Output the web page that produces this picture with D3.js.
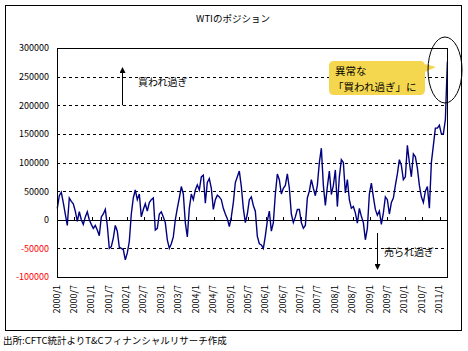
<!DOCTYPE html>
<html>
<head>
<meta charset="utf-8">
<script src="https://cdn.jsdelivr.net/npm/d3@7"></script>
<style>
    body { margin: 0; background: #fff; }
    svg text { font-family: "Noto Sans CJK JP", "Noto Sans", sans-serif; }
</style>
</head>
<body>
<svg id="chart" width="468" height="351"></svg>
<script>
// weekly CFTC net position, read every 3rd week from the picture
const startDate = new Date(2000, 0, 4);
const stepDays = 21;
const positions = [
    20000, 42000, 48000, 30000, 10000, -10000, 38000, 32000, 28000, 15000,
    -3000, 14000, 0, -8000, 5000, 14000, 0, -8000, -15000, -10000,
    -18000, -28000, 5000, 10000, 18000, -10000, -50000, -47000, -32000, -10000,
    -20000, -48000, -50000, -52000, -70000, -58000, -38000, 10000, 38000, 52000,
    35000, 45000, 5000, 18000, 28000, 15000, 30000, 35000, 38000, -18000,
    -15000, 10000, 14000, 5000, -5000, -35000, -50000, -42000, -30000, 0,
    20000, 38000, 58000, 45000, -5000, -30000, 20000, 45000, 35000, 52000,
    61000, 52000, 75000, 78000, 29000, 65000, 72000, 55000, 18000, 35000,
    43000, 40000, 35000, 20000, 10000, 2000, -12000, 5000, 30000, 65000,
    75000, 85000, 58000, 20000, -5000, 10000, 35000, 40000, 25000, 15000,
    -29000, -42000, -44000, -50000, -28000, -2000, 15000, -20000, -5000, 45000,
    80000, 70000, 45000, 55000, 60000, 80000, 55000, 10000, -5000, 5000,
    18000, 18000, -5000, -15000, -10000, 38000, 50000, 70000, 55000, 42000,
    60000, 100000, 125000, 60000, 25000, 58000, 85000, 44000, 60000, 87000,
    23000, 75000, 105000, 100000, 47000, 70000, 35000, 20000, 23000, 12000,
    -6000, 20000, 6000, -5000, -35000, -15000, 45000, 64000, 40000, 18000,
    8000, 15000, -8000, 12000, 40000, 35000, 10000, 30000, 38000, 60000,
    80000, 105000, 95000, 70000, 75000, 130000, 100000, 75000, 115000, 110000,
    90000, 60000, 40000, 30000, 50000, 58000, 20000, 100000, 130000, 160000,
    160000, 165000, 150000, 150000, 175000, 276000
];
const yTicks = [-100000, -50000, 0, 50000, 100000, 150000, 200000, 250000, 300000];
const xTickLabels = [
    "2000/1", "2000/7", "2001/1", "2001/7", "2002/1", "2002/7", "2003/1", "2003/7",
    "2004/1", "2004/7", "2005/1", "2005/7", "2006/1", "2006/7", "2007/1", "2007/7",
    "2008/1", "2008/7", "2009/1", "2009/7", "2010/1", "2010/7", "2011/1"
];

const svg = d3.select("#chart");
const plot = { left: 57, right: 447, top: 48, bottom: 277 };

const data = positions.map((v, i) => ({
    date: d3.timeDay.offset(startDate, i * stepDays),
    value: v
}));

const x = d3.scaleTime()
    .domain([new Date(2000, 0, 1), new Date(2011, 2, 18)])
    .range([plot.left, plot.right]);

const y = d3.scaleLinear()
    .domain([-100000, 300000])
    .range([plot.bottom, plot.top]);

// outer frame
svg.append("rect")
    .attr("x", 5.5).attr("y", 5.5)
    .attr("width", 456).attr("height", 325)
    .attr("fill", "none").attr("stroke", "#000");

svg.append("text")
    .attr("x", 233).attr("y", 22)
    .attr("text-anchor", "middle")
    .attr("font-size", 9.5)
    .text("WTIのポジション");

// dashed grid lines
svg.append("g")
    .selectAll("line")
    .data(yTicks.filter(d => d !== 0 && d !== -100000 && d !== 300000))
    .join("line")
    .attr("x1", plot.left).attr("x2", plot.right)
    .attr("y1", d => Math.round(y(d)) + 0.5)
    .attr("y2", d => Math.round(y(d)) + 0.5)
    .attr("stroke", "#000")
    .attr("stroke-dasharray", "3,3");

// y axis labels
const yAxis = svg.append("g")
    .attr("transform", `translate(${plot.left},0)`)
    .call(d3.axisLeft(y).tickValues(yTicks).tickSize(0).tickPadding(8).tickFormat(d => String(d)));
yAxis.select(".domain").remove();
yAxis.selectAll("text")
    .attr("font-family", "\"Noto Sans CJK JP\", sans-serif")
    .attr("font-size", 9)
    .attr("fill", d => d < 0 ? "#ff0000" : "#000");

// zero line with half-year ticks
svg.append("line")
    .attr("x1", plot.left).attr("x2", plot.right)
    .attr("y1", Math.round(y(0)) + 0.5).attr("y2", Math.round(y(0)) + 0.5)
    .attr("stroke", "#000");

const tickDates = xTickLabels.map(s => {
    const [yr, mo] = s.split("/").map(Number);
    return new Date(yr, mo - 1, 1);
});

svg.append("g")
    .selectAll("line")
    .data(tickDates)
    .join("line")
    .attr("x1", d => Math.round(x(d)) + 0.5).attr("x2", d => Math.round(x(d)) + 0.5)
    .attr("y1", Math.round(y(0)) - 3).attr("y2", Math.round(y(0)) + 0.5)
    .attr("stroke", "#000");

// x labels, rotated
svg.append("g")
    .selectAll("text")
    .data(xTickLabels)
    .join("text")
    .attr("transform", (d, i) => `translate(${x(tickDates[i]) - 1},285) rotate(-90)`)
    .attr("text-anchor", "end")
    .attr("dominant-baseline", "central")
    .attr("font-size", 9)
    .text(d => d);

// series line
svg.append("path")
    .datum(data)
    .attr("fill", "none")
    .attr("stroke", "#000080")
    .attr("stroke-width", 1.4)
    .attr("d", d3.line().x(d => x(d.date)).y(d => y(d.value)));

// plot border
svg.append("rect")
    .attr("x", plot.left + 0.5).attr("y", plot.top + 0.5)
    .attr("width", plot.right - plot.left).attr("height", plot.bottom - plot.top)
    .attr("fill", "none").attr("stroke", "#000");

// overbought / oversold arrows
svg.append("defs").append("marker")
    .attr("id", "head")
    .attr("viewBox", "0 0 6 6")
    .attr("refX", 5).attr("refY", 3)
    .attr("markerWidth", 6).attr("markerHeight", 6)
    .attr("orient", "auto")
    .append("path")
    .attr("d", "M0,0L6,3L0,6Z")
    .attr("fill", "#000");

svg.append("line")
    .attr("x1", 122.5).attr("x2", 122.5)
    .attr("y1", y(200000)).attr("y2", 68)
    .attr("stroke", "#000")
    .attr("marker-end", "url(#head)");
svg.append("text")
    .attr("x", 138).attr("y", 86)
    .attr("font-size", 10)
    .text("買われ過ぎ");

svg.append("line")
    .attr("x1", 377.5).attr("x2", 377.5)
    .attr("y1", 233).attr("y2", 269)
    .attr("stroke", "#000")
    .attr("marker-end", "url(#head)");
svg.append("text")
    .attr("x", 384).attr("y", 256)
    .attr("font-size", 10)
    .text("売られ過ぎ");

// callout
svg.append("path")
    .attr("d", "M334,61H420Q425,61 425,66V64L436,67L425,72V90Q425,95 420,95H334Q329,95 329,90V66Q329,61 334,61Z")
    .attr("fill", "#f5d74f");
svg.append("text")
    .attr("x", 335).attr("y", 75)
    .attr("font-size", 10.5)
    .text("異常な");
svg.append("text")
    .attr("x", 333).attr("y", 91)
    .attr("font-size", 10.5)
    .text("「買われ過ぎ」に");

svg.append("ellipse")
    .attr("cx", 445).attr("cy", 70)
    .attr("rx", 17).attr("ry", 33)
    .attr("fill", "none")
    .attr("stroke", "#000");

svg.append("text")
    .attr("x", 3).attr("y", 344)
    .attr("font-size", 9.5)
    .text("出所:CFTC統計よりT&Cフィナンシャルリサーチ作成");
</script>
</body>
</html>
